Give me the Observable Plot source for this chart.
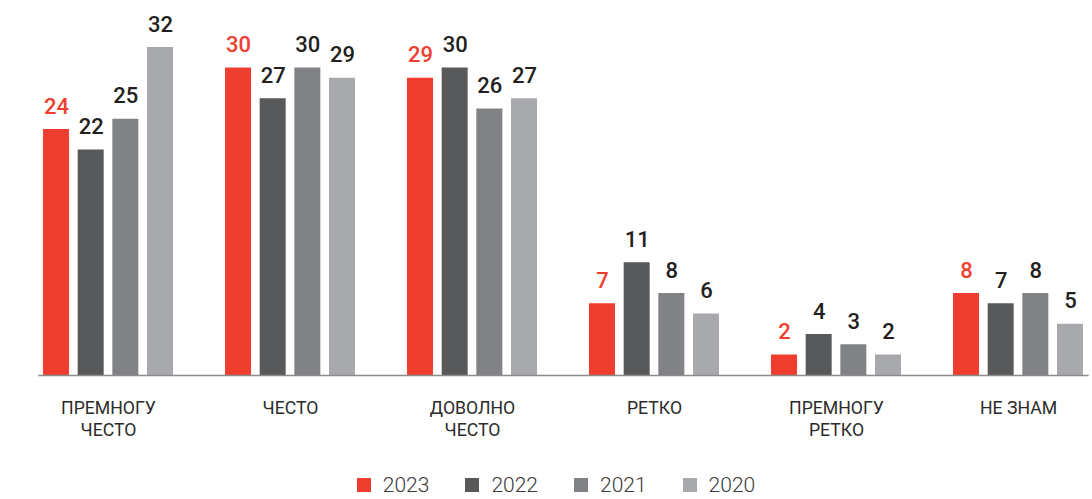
<!DOCTYPE html>
<html>
<head>
<meta charset="utf-8">
<script src="https://cdn.jsdelivr.net/npm/d3@7"></script>
<script src="https://cdn.jsdelivr.net/npm/@observablehq/plot@0.6"></script>
<style>
  html, body { margin: 0; padding: 0; background: #fff; }
  body { width: 1092px; height: 499px; overflow: hidden; position: relative; font-family: Roboto, "Noto Sans", sans-serif; }
  #legend { position: absolute; left: 0; top: 474px; width: 1092px; display: flex; justify-content: center; line-height: 23px; font-size: 21px; font-weight: 300; color: #3a3a3a; padding-left: 20px; box-sizing: border-box; white-space: nowrap; }
  #legend .item { margin-right: 36px; }
  #legend .item:last-child { margin-right: 0; }
  #legend .sw { display: inline-block; width: 14px; height: 14px; margin-right: 12px; vertical-align: baseline; }
</style>
</head>
<body>
<div id="chart"></div>
<div id="legend"></div>
<script>
const categories = ["ПРЕМНОГУ\nЧЕСТО", "ЧЕСТО", "ДОВОЛНО\nЧЕСТО", "РЕТКО", "ПРЕМНОГУ\nРЕТКО", "НЕ ЗНАМ"];
const years = ["2023", "2022", "2021", "2020"];
const values2023 = [24, 30, 29, 7, 2, 8];
const values2022 = [22, 27, 30, 11, 4, 7];
const values2021 = [25, 30, 26, 8, 3, 8];
const values2020 = [32, 29, 27, 6, 2, 5];
const yearColors = ["#ef3e2f", "#58595b", "#808285", "#a7a9ac"];
const highlightText = "#ef3e2f";
const darkText = "#231f20";

const series = [values2023, values2022, values2021, values2020];
const data = categories.flatMap((c, i) => years.map((y, j) => ({category: c, year: y, value: series[j][i]})));

const chart = Plot.plot({
  width: 1092,
  height: 474,
  marginTop: 47,
  marginBottom: 99,
  marginLeft: 8,
  marginRight: 0,
  style: {fontFamily: "Roboto, 'Noto Sans', sans-serif", background: "#fff"},
  fx: {domain: categories, paddingInner: 0.2381, paddingOuter: 0.0971, align: 0.868, round: false, axis: null, label: null},
  x: {domain: years, paddingInner: 0.25, paddingOuter: 0.125, round: false, axis: null, label: null},
  y: {domain: [0, d3.max(data, d => d.value)], axis: null, label: null},
  color: {domain: years, range: yearColors},
  marks: [
    Plot.barY(data, {fx: "category", x: "year", y: "value", fill: "year"}),
    Plot.frame({anchor: "bottom", facet: "super", stroke: "#8c8c8c", strokeWidth: 1.6}),
    Plot.text(data.filter(d => d.year === years[0]), {fx: "category", x: "year", y: "value", text: d => String(d.value), lineAnchor: "bottom", dy: -16, fill: highlightText, fontSize: 22, fontWeight: 500}),
    Plot.text(data.filter(d => d.year !== years[0]), {fx: "category", x: "year", y: "value", text: d => String(d.value), lineAnchor: "bottom", dy: -16, fill: darkText, fontSize: 22, fontWeight: 500}),
    Plot.text(categories, {fx: d => d, text: d => d, frameAnchor: "bottom", lineAnchor: "top", dy: 22, lineHeight: 1.2, fontSize: 19, fill: "#2b2b2b"})
  ]
});
document.getElementById("chart").appendChild(chart);

// condense category labels horizontally (condensed typeface look)
const labelSet = new Set(categories.map(c => c.replace(/\n/g, "")));
chart.querySelectorAll("text").forEach(t => {
  if (!labelSet.has(t.textContent)) return;
  const tr = t.getAttribute("transform");
  if (tr) {
    t.setAttribute("transform", tr + " scale(0.93,1)");
  } else {
    const x = +t.getAttribute("x") || 0, y = +t.getAttribute("y") || 0;
    t.removeAttribute("x"); t.removeAttribute("y");
    t.setAttribute("transform", `translate(${x},${y}) scale(0.93,1)`);
  }
});

const legend = document.getElementById("legend");
years.forEach((y, i) => {
  const item = document.createElement("span");
  item.className = "item";
  const sw = document.createElement("span");
  sw.className = "sw";
  sw.style.background = yearColors[i];
  item.appendChild(sw);
  item.appendChild(document.createTextNode(y));
  legend.appendChild(item);
});
</script>
</body>
</html>
